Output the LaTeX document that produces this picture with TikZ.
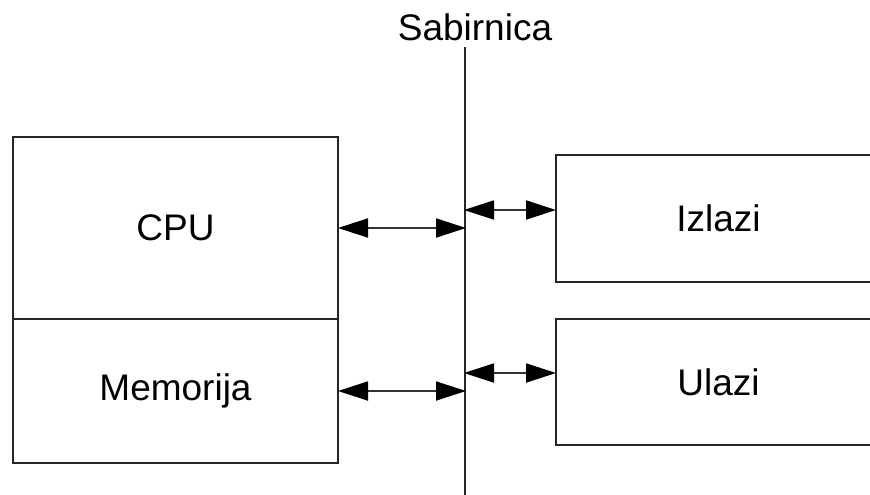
\documentclass[tikz,border=0pt]{standalone}
\usepackage{fontspec}
\setmainfont{Liberation Sans}
\usetikzlibrary{arrows.meta}
\begin{document}
\begin{tikzpicture}[x=1pt,y=1pt,
  box/.style={draw=black!85,line width=2pt,rectangle,inner sep=0pt,
    minimum width=325pt,font=\fontsize{37}{44}\selectfont},
  link/.style={line width=1.8pt,draw=black!80,{Triangle[length=30pt,width=19pt,fill=black,color=black]}-{Triangle[length=30pt,width=19pt,fill=black,color=black]},shorten <=-1pt,shorten >=-1pt},
  lbl/.style={font=\fontsize{37}{44}\selectfont,inner sep=0pt}]
\clip (0,0) rectangle (870,-495);
\fill[white] (0,0) rectangle (870,-495);
% left stack
\node[box,minimum height=182pt] (cpu) at (175.5,-228) {CPU};
\node[box,minimum height=144pt] (mem) at (175.5,-391) {Memorija};
% right boxes (cut off at the right edge)
\node[box,minimum height=127pt] (izl) at (718.5,-218.5) {Izlazi};
\node[box,minimum height=126pt] (ul) at (718.5,-382) {Ulazi};
% bus
\coordinate (bustop) at (465,-47);
\coordinate (busbot) at (465,-500);
\draw[line width=2pt,draw=black!85] (bustop) -- (busbot);
\node[lbl] (sab) at (475,-27) {Sabirnica};
% connectors
\draw[link] (cpu.east) -- (cpu.east -| bustop);
\draw[link] (mem.east) -- (mem.east -| bustop);
\draw[link] ([yshift=8.5pt]izl.west -| bustop) -- ([yshift=8.5pt]izl.west);
\draw[link] ([yshift=9pt]ul.west -| bustop) -- ([yshift=9pt]ul.west);
\end{tikzpicture}
\end{document}
